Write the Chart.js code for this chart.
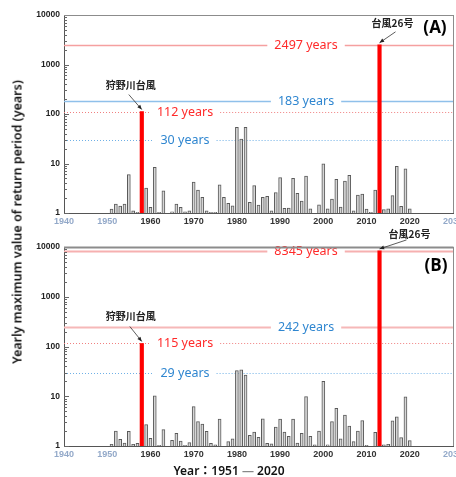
<!DOCTYPE html>
<html>
<head>
<meta charset="utf-8">
<script src="https://cdn.jsdelivr.net/npm/chart.js@4"></script>
<style>
  body { margin: 0; background: #fff; width: 456px; height: 477px; position: relative; overflow: hidden; }
  #wrapA { position: absolute; left: 0; top: 0; }
  #wrapB { position: absolute; left: 0; top: 228px; }
  #ytitle {
    position: absolute; left: 17px; top: 222px;
    transform: translate(-50%, -50%) rotate(-90deg);
    white-space: nowrap; font: 600 12.5px "Noto Sans", sans-serif; color: #111;
  }
  #xtitle {
    position: absolute; left: 229px; top: 470px;
    transform: translate(-50%, -50%);
    white-space: nowrap; font: 600 12px "Noto Sans", "Noto Sans CJK JP", sans-serif; color: #111;
  }
  #xtitle .dash { color: #888; }
</style>
</head>
<body>
<div id="wrapA"><canvas id="chartA" width="456" height="228"></canvas></div>
<div id="wrapB"><canvas id="chartB" width="456" height="249"></canvas></div>
<div id="ytitle">Yearly maximum value of return period (years)</div>
<div id="xtitle">Year：1951 <span class="dash">—</span> 2020</div>

<script>
// ---- data ----
const years = [
  1951, 1952, 1953, 1954, 1955, 1956, 1957, 1958, 1959, 1960,
  1961, 1962, 1963, 1964, 1965, 1966, 1967, 1968, 1969, 1970,
  1971, 1972, 1973, 1974, 1975, 1976, 1977, 1978, 1979, 1980,
  1981, 1982, 1983, 1984, 1985, 1986, 1987, 1988, 1989, 1990,
  1991, 1992, 1993, 1994, 1995, 1996, 1997, 1998, 1999, 2000,
  2001, 2002, 2003, 2004, 2005, 2006, 2007, 2008, 2009, 2010,
  2011, 2012, 2013, 2014, 2015, 2016, 2017, 2018, 2019, 2020
];

// panel (A) return periods (years)
const returnA = [
  1.2, 1.52, 1.38, 1.52, 6.0, 1.1, 1.03, 112, 3.2, 1.3,
  8.4, 1.03, 2.8, null, 1.06, 1.52, 1.3, 1.05, 1.1, 4.2,
  2.9, 2.07, 1.1, 1.03, 1.03, 3.7, 2.07, 1.57, 1.4, 53.7,
  31, 54, 1.64, 3.6, 1.45, 2.07, 2.17, 1.1, 2.6, 5.2,
  1.24, 1.26, 5.0, 2.5, 1.75, 5.6, 1.22, null, 1.47, 9.8,
  1.22, 1.9, 4.8, 1.32, 4.4, 5.8, 1.1, 2.3, 2.4, 1.2,
  1.03, 2.9, 2497, 1.17, 1.22, 2.24, 8.8, 1.36, 7.8, 1.22
];

// panel (B) return periods (years)
const returnB = [
  1.08, 2.0, 1.36, 1.15, 1.97, 1.08, 1.13, 115, 2.7, 1.42,
  10.2, 1.03, 2.15, null, 1.3, 1.8, 1.26, 1.03, 1.17, 6.2,
  3.1, 2.75, 1.97, 1.13, 1.05, 3.46, null, 1.22, 1.4, 32.7,
  34, 26.6, 1.63, 1.9, 1.5, 3.5, 1.13, 1.11, 2.4, 3.46,
  1.9, 1.56, 3.46, 1.15, 1.8, 9.8, 1.56, 1.05, 2.0, 20,
  1.06, 3.1, 5.75, 1.4, 4.2, 2.5, 1.22, 2.0, 3.26, 1.03,
  null, 1.88, 8345, 1.05, 1.08, 3.2, 3.85, 1.47, 9.7, 1.28
];

// typhoon years highlighted in red
const highlightYears = [1958, 2013];
const highlightNames = ['狩野川台風', '台風26号'];

// reference return periods
const refA = [2497, 183, 112, 30];
const refB = [8345, 242, 115, 29];

const xTicks = [1940, 1950, 1960, 1970, 1980, 1990, 2000, 2010, 2020, 2030];
const yTicks = [1, 10, 100, 1000, 10000];

// ---- styles for reference lines (order matches refA / refB) ----
const refStyleA = [
  { stroke: '#f5a0a0', width: 1.6, dash: [], text: '#ff2a2a', at: 1996 },
  { stroke: '#8fc0ea', width: 1.5, dash: [], text: '#2f86d0', at: 1996 },
  { stroke: '#f08080', width: 1, dash: [1, 2], text: '#ff2a2a', at: 1968 },
  { stroke: '#6fb0e6', width: 1, dash: [1, 2], text: '#2f86d0', at: 1968 }
];
const refStyleB = [
  { stroke: '#f6b0b0', width: 2, dash: [], text: '#ff2a2a', at: 1996 },
  { stroke: '#f6b8b8', width: 2, dash: [], text: '#2f86d0', at: 1996 },
  { stroke: '#f08080', width: 1, dash: [1, 2], text: '#ff2a2a', at: 1968 },
  { stroke: '#6fb0e6', width: 1, dash: [1, 2], text: '#2f86d0', at: 1968 }
];

function grayData(values) {
  return years.map((y, i) => ({ x: y, y: highlightYears.includes(y) ? null : values[i] }));
}
function redData(values) {
  return years.map((y, i) => ({ x: y, y: highlightYears.includes(y) ? values[i] : null }));
}

// horizontal return-period lines with labels
function refLinesPlugin(values, styles) {
  return {
    id: 'refLines',
    beforeDatasetsDraw(chart) {
      const { ctx, chartArea } = chart;
      const xs = chart.scales.x, ys = chart.scales.y;
      ctx.save();
      ctx.font = '12.5px "Noto Sans", sans-serif';
      ctx.textAlign = 'center';
      ctx.textBaseline = 'middle';
      values.forEach((v, i) => {
        const st = styles[i];
        const y = Math.round(ys.getPixelForValue(v)) + 0.5;
        const label = v + ' years';
        const cx = xs.getPixelForValue(st.at);
        const w = ctx.measureText(label).width + 14;
        ctx.strokeStyle = st.stroke;
        ctx.lineWidth = st.width;
        ctx.setLineDash(st.dash);
        ctx.beginPath();
        ctx.moveTo(chartArea.left, y);
        ctx.lineTo(cx - w / 2, y);
        ctx.moveTo(cx + w / 2, y);
        ctx.lineTo(chartArea.right, y);
        ctx.stroke();
        ctx.fillStyle = st.text;
        ctx.fillText(label, cx, y);
      });
      ctx.restore();
    }
  };
}

// frame, minor log ticks, typhoon labels with arrows, panel tag
function decorPlugin(o) {
  return {
    id: 'decor',
    afterDraw(chart) {
      const { ctx, chartArea } = chart;
      const xs = chart.scales.x, ys = chart.scales.y;
      ctx.save();
      // frame top / right
      ctx.strokeStyle = '#8c8c8c';
      ctx.lineWidth = o.frameWidth;
      ctx.beginPath();
      ctx.moveTo(chartArea.left, chartArea.top + 0.5);
      ctx.lineTo(chartArea.right + 0.5, chartArea.top + 0.5);
      ctx.stroke();
      ctx.lineWidth = 1;
      ctx.beginPath();
      ctx.moveTo(chartArea.right + 0.5, chartArea.top);
      ctx.lineTo(chartArea.right + 0.5, chartArea.bottom);
      ctx.stroke();
      // minor ticks on the log axis
      ctx.strokeStyle = '#666';
      ctx.beginPath();
      for (let d = 1; d < 10000; d *= 10) {
        for (let k = 1; k < 10; k++) {
          const y = Math.round(ys.getPixelForValue(d * k)) + 0.5;
          const len = k === 1 ? 5 : 3;
          ctx.moveTo(chartArea.left, y);
          ctx.lineTo(chartArea.left + len, y);
        }
      }
      ctx.stroke();
      // typhoon annotations
      ctx.font = 'bold 10px "Noto Sans CJK JP", sans-serif';
      ctx.textAlign = 'center';
      ctx.textBaseline = 'middle';
      o.notes.forEach(n => {
        const tipX = xs.getPixelForValue(n.year);
        const tipY = ys.getPixelForValue(n.value) - 2;
        const tailX = tipX + n.tail[0], tailY = tipY + n.tail[1];
        ctx.strokeStyle = '#333';
        ctx.lineWidth = 0.8;
        ctx.beginPath();
        ctx.moveTo(tailX, tailY);
        ctx.lineTo(tipX, tipY);
        ctx.stroke();
        const a = Math.atan2(tipY - tailY, tipX - tailX);
        ctx.fillStyle = '#222';
        ctx.beginPath();
        ctx.moveTo(tipX, tipY);
        ctx.lineTo(tipX - 5 * Math.cos(a - 0.4), tipY - 5 * Math.sin(a - 0.4));
        ctx.lineTo(tipX - 5 * Math.cos(a + 0.4), tipY - 5 * Math.sin(a + 0.4));
        ctx.closePath();
        ctx.fill();
        ctx.fillText(n.text, tipX + n.label[0], tipY + n.label[1]);
      });
      // panel tag
      ctx.font = 'bold 17px "Open Sans", sans-serif';
      ctx.fillStyle = '#000';
      ctx.fillText(o.tag, o.tagPos[0], o.tagPos[1]);
      ctx.restore();
    }
  };
}

function makeChart(canvasId, values, refs, refStyles, opts) {
  const ctx = document.getElementById(canvasId).getContext('2d');
  return new Chart(ctx, {
    type: 'bar',
    data: {
      datasets: [{
        data: grayData(values),
        backgroundColor: '#d6d6d6',
        borderColor: '#5a5a5a',
        borderWidth: 1,
        barThickness: 3,
        grouped: false
      }, {
        data: redData(values),
        backgroundColor: '#ff0000',
        borderWidth: 0,
        barThickness: 3.5,
        grouped: false
      }]
    },
    options: {
      responsive: false,
      animation: false,
      layout: { padding: { top: opts.padTop, right: 3, left: 0, bottom: 0 } },
      plugins: {
        legend: { display: false },
        tooltip: { enabled: false }
      },
      scales: {
        x: {
          type: 'linear',
          offset: false,
          min: 1940,
          max: 2030,
          afterBuildTicks: s => { s.ticks = xTicks.map(v => ({ value: v })); },
          afterFit: s => { s.height = opts.xAxisH; s.paddingLeft = 0; s.paddingRight = 0; },
          grid: { display: false, drawTicks: false, offset: false },
          border: { color: '#555', width: 1 },
          ticks: {
            padding: 3,
            font: { family: '"Liberation Sans", sans-serif', size: 9, weight: 'bold' },
            color: c => ([1940, 1950, 2030].includes(c.tick.value) ? '#93a9c9' : '#333'),
            callback: v => String(v),
            maxRotation: 0
          }
        },
        y: {
          type: 'logarithmic',
          min: 1,
          max: 10000,
          afterBuildTicks: s => { s.ticks = yTicks.map(v => ({ value: v })); },
          afterFit: s => { s.width = 64; s.paddingTop = 0; s.paddingBottom = 0; },
          grid: { display: false, drawTicks: false },
          border: { color: '#555', width: 1 },
          ticks: {
            padding: 4,
            font: { family: '"Liberation Sans", sans-serif', size: 8.5, weight: 'bold' },
            color: '#222',
            callback: v => String(v)
          }
        }
      }
    },
    plugins: [refLinesPlugin(refs, refStyles), decorPlugin(opts)]
  });
}

makeChart('chartA', returnA, refA, refStyleA, {
  padTop: 15, xAxisH: 15, tag: '(A)', tagPos: [435, 28], frameWidth: 1,
  notes: [
    { year: 1958, value: 112, text: highlightNames[0], tail: [-13, -15], label: [-11, -24] },
    { year: 2013, value: 2497, text: highlightNames[1], tail: [16, -11], label: [13, -20] }
  ]
});

makeChart('chartB', returnB, refB, refStyleB, {
  padTop: 19, xAxisH: 31, tag: '(B)', tagPos: [436, 38], frameWidth: 2,
  notes: [
    { year: 1958, value: 115, text: highlightNames[0], tail: [-12, -15], label: [-11, -25] },
    { year: 2013, value: 8345, text: highlightNames[1], tail: [27, -9], label: [30, -15] }
  ]
});
</script>
</body>
</html>
